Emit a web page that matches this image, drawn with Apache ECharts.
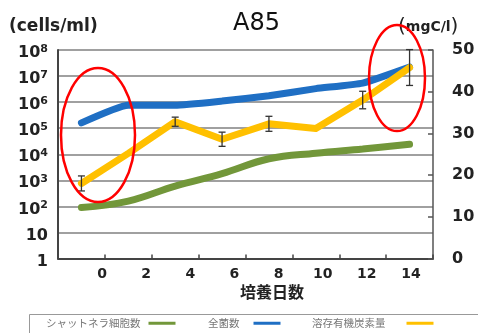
<!DOCTYPE html>
<html>
<head>
<meta charset="utf-8">
<script src="https://cdn.jsdelivr.net/npm/echarts@6/dist/echarts.min.js"></script>
<style>
  html, body { margin: 0; padding: 0; background: #fff; }
  #chart { width: 478px; height: 333px; }
</style>
</head>
<body>
<div id="chart"></div>
<script>
// Culture days (one category per sampling day)
const days = ['0', '2', '4', '6', '8', '10', '12', '14'];

// シャットネラ細胞数 (cells/ml)
const chattonellaCells = [90, 160, 600, 1800, 6700, 11000, 16000, 24000];
// 全菌数 (cells/ml)
const totalBacteria = [160000, 760000, 760000, 1100000, 1750000, 3300000, 5400000, 22000000];
// 溶存有機炭素量 (mgC/l)
const dissolvedOC = [18.0, 25.2, 32.8, 28.6, 32.3, 31.2, 38.0, 45.8];
// ± error of the dissolved organic carbon measurements (0 = not shown)
const dissolvedOCErr = [1.8, 0, 1.1, 1.7, 1.8, 0, 2.1, 4.3];

// Axis tick values
const dayTicks = [0, 2, 4, 6, 8, 10, 12, 14];
const cellTickMin = 1, cellTickMax = 1e8;
const carbonTickMin = 0, carbonTickMax = 50, carbonTickStep = 10;

const seriesNames = ['シャットネラ細胞数', '全菌数', '溶存有機炭素量'];
const colors = { green: '#72973A', blue: '#1F6FC4', yellow: '#FFC000', mark: '#FF0000' };

const FONT = '"DejaVu Sans", "Liberation Sans", sans-serif';
const JP = '"Noto Sans CJK JP", sans-serif';

const errorBars = dissolvedOC
  .map((v, i) => [i, v - dissolvedOCErr[i], v + dissolvedOCErr[i], dissolvedOCErr[i]])
  .filter(d => d[3] > 0);

// one legend block per series: text first, then a short coloured bar
function legendBlock(name, left, gapRight) {
  return {
    data: [name],
    left: left, top: 318,
    padding: 0,
    align: 'right',
    icon: 'rect',
    itemWidth: 27, itemHeight: 3,
    itemStyle: { borderWidth: 0 },
    lineStyle: { width: 0 },
    textStyle: { fontFamily: JP, fontSize: 10.5, color: '#777', padding: [0, gapRight, 0, 0] }
  };
}

const chart = echarts.init(document.getElementById('chart'), null, { renderer: 'canvas' });

chart.setOption({
  backgroundColor: '#ffffff',
  animation: false,
  grid: { left: 58, top: 50, width: 375, height: 208.5 },
  legend: [
    legendBlock(seriesNames[0], 46, 3),
    legendBlock(seriesNames[1], 208, 9),
    legendBlock(seriesNames[2], 312, 16)
  ],
  xAxis: [
    {
      type: 'category',
      data: days,
      boundaryGap: true,
      axisLine: { show: true, onZero: false, lineStyle: { color: '#444', width: 2 } },
      axisTick: { show: true, inside: true, length: 4, interval: 0, lineStyle: { color: '#444', width: 1.5 } },
      axisLabel: { show: false },
      splitLine: { show: false }
    },
    {
      type: 'value',
      position: 'bottom',
      min: -2, max: 15, interval: 2,
      axisLine: { show: false, onZero: false },
      axisTick: { show: false },
      splitLine: { show: false },
      axisLabel: {
        margin: 9,
        fontFamily: FONT, fontSize: 14, fontWeight: 'bold', color: '#222',
        formatter: v => (dayTicks.indexOf(v) >= 0 ? String(v) : '')
      }
    }
  ],
  yAxis: [
    {
      type: 'log',
      logBase: 10,
      min: cellTickMin, max: cellTickMax,
      axisLine: { show: true, onZero: false, lineStyle: { color: '#444', width: 2 } },
      axisTick: { show: false },
      splitLine: { show: true, lineStyle: { color: '#808080', width: 1.5 } },
      axisLabel: {
        margin: 10,
        padding: [6, 0, 0, 0],
        fontFamily: FONT, fontSize: 16, fontWeight: 'bold', color: '#222',
        formatter: v => {
          const e = Math.round(Math.log10(v));
          if (e === 0) return '1';
          if (e === 1) return '10';
          return '10{s|' + e + '}';
        },
        rich: {
          s: { fontFamily: FONT, fontSize: 11, fontWeight: 'bold', color: '#222', verticalAlign: 'top', padding: [0, 0, 8, 0] }
        }
      }
    },
    {
      type: 'value',
      position: 'right',
      min: carbonTickMin, max: carbonTickMax, interval: carbonTickStep,
      axisLine: { show: true, onZero: false, lineStyle: { color: '#555', width: 1.5 } },
      axisTick: { show: true, inside: true, length: 5, lineStyle: { color: '#555', width: 1.5 } },
      splitLine: { show: false },
      axisLabel: { margin: 19, fontFamily: FONT, fontSize: 16, fontWeight: 'bold', color: '#222' }
    }
  ],
  series: [
    {
      name: seriesNames[0], type: 'line', xAxisIndex: 0, yAxisIndex: 0,
      data: chattonellaCells, smooth: 0.4, symbol: 'none',
      itemStyle: { color: colors.green },
      lineStyle: { color: colors.green, width: 7, cap: 'round' }, z: 3
    },
    {
      name: seriesNames[1], type: 'line', xAxisIndex: 0, yAxisIndex: 0,
      data: totalBacteria, smooth: 0.15, symbol: 'none',
      itemStyle: { color: colors.blue },
      lineStyle: { color: colors.blue, width: 7, cap: 'round' }, z: 4
    },
    {
      name: seriesNames[2], type: 'line', xAxisIndex: 0, yAxisIndex: 1,
      data: dissolvedOC, symbol: 'none',
      itemStyle: { color: colors.yellow },
      lineStyle: { color: colors.yellow, width: 7, cap: 'round', join: 'round' }, z: 5
    },
    {
      name: 'error', type: 'custom', xAxisIndex: 0, yAxisIndex: 1,
      data: errorBars, z: 6, silent: true,
      renderItem: (params, api) => {
        const x = api.value(0);
        const lo = api.coord([x, api.value(1)]);
        const hi = api.coord([x, api.value(2)]);
        const w = 3.5;
        const st = { stroke: '#333', lineWidth: 1.3 };
        return {
          type: 'group',
          children: [
            { type: 'line', shape: { x1: lo[0], y1: lo[1], x2: hi[0], y2: hi[1] }, style: st },
            { type: 'line', shape: { x1: lo[0] - w, y1: lo[1], x2: lo[0] + w, y2: lo[1] }, style: st },
            { type: 'line', shape: { x1: hi[0] - w, y1: hi[1], x2: hi[0] + w, y2: hi[1] }, style: st }
          ]
        };
      }
    }
  ],
  graphic: [
    { type: 'text', left: 233, top: 12, z: 10,
      style: { text: 'A85', font: '24px ' + FONT, fill: '#111' } },
    { type: 'text', left: 9, top: 18, z: 10,
      style: { text: '(cells/ml)', font: 'bold 17px ' + FONT, fill: '#222' } },
    { type: 'text', left: 398, top: 17, z: 10,
      style: {
        text: '{p|(}{u|mgC/l}{p|)}',
        rich: {
          p: { font: '20px ' + FONT, fill: '#222' },
          u: { font: 'bold 14px ' + FONT, fill: '#222' }
        }
      } },
    { type: 'text', left: 240, top: 284, z: 10,
      style: { text: '培養日数', font: 'bold 16px ' + JP, fill: '#222' } },
    // legend frame
    { type: 'rect', z: 1, silent: true,
      shape: { x: 29.5, y: 314.5, width: 470, height: 40 },
      style: { fill: 'none', stroke: '#999', lineWidth: 1 } },
    // highlight rings around the start and end of the culture
    { type: 'ellipse', z: 20, silent: true,
      shape: { cx: 98, cy: 135, rx: 37, ry: 67 },
      style: { fill: 'none', stroke: colors.mark, lineWidth: 2.5 } },
    { type: 'ellipse', z: 20, silent: true,
      shape: { cx: 397, cy: 78, rx: 28, ry: 53 },
      style: { fill: 'none', stroke: colors.mark, lineWidth: 2.5 } }
  ]
});
</script>
</body>
</html>
